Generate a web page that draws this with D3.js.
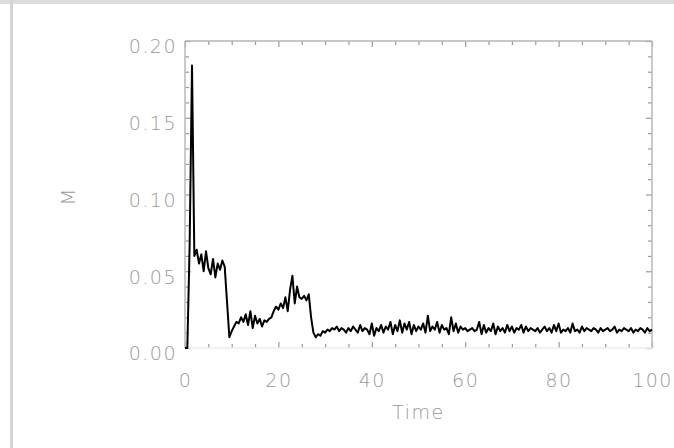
<!DOCTYPE html>
<html><head><meta charset="utf-8">
<script src="https://cdn.jsdelivr.net/npm/d3@7"></script>
<style>
html,body{margin:0;padding:0;background:#fff;}
svg{display:block;}
.lab{font-family:"DejaVu Sans",sans-serif;font-weight:200;fill:#999;}
</style></head><body>
<script>
// sampling of the Time axis
const timeStart = 0, timeStep = 0.5;
// M values, one every 0.5 time units (t = 0 .. 100)
const mValues = [
 0.000,0.000,0.068,0.184,0.060,0.064,0.055,0.061,0.050,0.063,
 0.052,0.048,0.058,0.046,0.055,0.051,0.057,0.053,0.030,0.007,
 0.011,0.014,0.017,0.016,0.020,0.017,0.022,0.015,0.024,0.013,
 0.021,0.016,0.019,0.014,0.018,0.017,0.019,0.020,0.024,0.027,
 0.025,0.029,0.026,0.033,0.024,0.038,0.047,0.029,0.040,0.033,
 0.032,0.034,0.031,0.035,0.020,0.010,0.007,0.009,0.008,0.011,
 0.010,0.012,0.011,0.013,0.012,0.014,0.011,0.013,0.012,0.010,
 0.013,0.011,0.014,0.012,0.010,0.015,0.011,0.013,0.012,0.009,
 0.016,0.008,0.013,0.011,0.015,0.010,0.014,0.012,0.017,0.009,
 0.015,0.011,0.018,0.010,0.016,0.012,0.017,0.009,0.015,0.011,
 0.014,0.012,0.016,0.010,0.021,0.011,0.014,0.012,0.017,0.010,
 0.015,0.012,0.013,0.009,0.020,0.011,0.016,0.010,0.014,0.012,
 0.013,0.011,0.012,0.013,0.011,0.012,0.017,0.009,0.015,0.010,
 0.013,0.011,0.016,0.009,0.014,0.011,0.013,0.010,0.015,0.011,
 0.014,0.010,0.013,0.012,0.015,0.010,0.014,0.011,0.013,0.012,
 0.011,0.013,0.010,0.012,0.014,0.011,0.013,0.010,0.015,0.011,
 0.016,0.010,0.012,0.011,0.013,0.010,0.016,0.011,0.012,0.010,
 0.014,0.011,0.013,0.012,0.011,0.013,0.012,0.010,0.013,0.011,
 0.012,0.013,0.011,0.012,0.014,0.010,0.012,0.011,0.013,0.012,
 0.011,0.013,0.010,0.012,0.011,0.013,0.012,0.010,0.013,0.011,
 0.012
];
const xMajorTicks = [0,20,40,60,80,100];
const xMinorTicks = [5,10,15,25,30,35,45,50,55,65,70,75,85,90,95];
const yMajorTicks = [0.00,0.05,0.10,0.15,0.20];
const yMinorTicks = [0.01,0.02,0.03,0.04,0.06,0.07,0.08,0.09,0.11,0.12,0.13,0.14,0.16,0.17,0.18,0.19];
const xTitle = "Time", yTitle = "M";

const W = 674, H = 448;
const svg = d3.select("body").append("svg").attr("width", W).attr("height", H);

// page frame (gray band on top, gray rule on the left)
svg.append("rect").attr("x",0).attr("y",0).attr("width",W).attr("height",4).attr("fill","#dcdcdc");
svg.append("rect").attr("x",10).attr("y",0).attr("width",3).attr("height",H).attr("fill","#d4d4d4");

const L = 185, R = 652, T = 41, B = 348;
const x = d3.scaleLinear().domain([0,100]).range([L,R]);
const y = d3.scaleLinear().domain([0,0.2]).range([B,T]);

const data = mValues.map((v,i)=>({t: timeStart + i*timeStep, v}));

function styleAxis(g){
  g.select(".domain").remove();
  g.selectAll(".tick line").attr("stroke","#9a9a9a").attr("stroke-width",1.2);
  g.selectAll("text").attr("class","lab").attr("font-size",19).attr("letter-spacing","1.5px");
}
// bottom
svg.append("g").attr("transform",`translate(0,${B})`)
  .call(d3.axisBottom(x).tickValues(xMajorTicks).tickSize(-6).tickPadding(26).tickFormat(d3.format("d")))
  .call(styleAxis);
svg.append("g").attr("transform",`translate(0,${B})`)
  .call(d3.axisBottom(x).tickValues(xMinorTicks).tickSize(-4).tickFormat(""))
  .call(styleAxis);
// top
svg.append("g").attr("transform",`translate(0,${T})`)
  .call(d3.axisTop(x).tickValues(xMajorTicks).tickSize(-6).tickFormat(""))
  .call(styleAxis);
svg.append("g").attr("transform",`translate(0,${T})`)
  .call(d3.axisTop(x).tickValues(xMinorTicks).tickSize(-4).tickFormat(""))
  .call(styleAxis);
// left
const yl = svg.append("g").attr("transform",`translate(${L},0)`)
  .call(d3.axisLeft(y).tickValues(yMajorTicks).tickSize(-6).tickPadding(8).tickFormat(d3.format(".2f")))
  .call(styleAxis);
yl.selectAll("text").attr("dy","0.62em");
svg.append("g").attr("transform",`translate(${L},0)`)
  .call(d3.axisLeft(y).tickValues(yMinorTicks).tickSize(-4).tickFormat(""))
  .call(styleAxis);
// right
svg.append("g").attr("transform",`translate(${R},0)`)
  .call(d3.axisRight(y).tickValues(yMajorTicks).tickSize(-6).tickFormat(""))
  .call(styleAxis);
svg.append("g").attr("transform",`translate(${R},0)`)
  .call(d3.axisRight(y).tickValues(yMinorTicks).tickSize(-4).tickFormat(""))
  .call(styleAxis);

// frame lines (bottom one barely visible in the reference)
const fr = svg.append("g").attr("fill","none").attr("stroke-width",1.6);
fr.append("line").attr("x1",L).attr("x2",R).attr("y1",T).attr("y2",T).attr("stroke","#b4b4b4");
fr.append("line").attr("x1",L).attr("x2",L).attr("y1",T).attr("y2",B).attr("stroke","#bdbdbd");
fr.append("line").attr("x1",R).attr("x2",R).attr("y1",T).attr("y2",B).attr("stroke","#bdbdbd");
fr.append("line").attr("x1",L).attr("x2",R).attr("y1",B).attr("y2",B).attr("stroke","#ececec");

// data line
svg.append("path").datum(data)
  .attr("fill","none").attr("stroke","#000").attr("stroke-width",2).attr("stroke-linejoin","round")
  .attr("d", d3.line().x(d=>x(d.t)).y(d=>y(d.v)));

// titles
svg.append("text").attr("class","lab").attr("x",(L+R)/2).attr("y",419)
  .attr("text-anchor","middle").attr("font-size",19).attr("letter-spacing","1.5px").text(xTitle);
svg.append("text").attr("class","lab").attr("transform",`translate(75,197) rotate(-90)`)
  .attr("text-anchor","middle").attr("font-size",20).text(yTitle);
</script>
</body></html>
